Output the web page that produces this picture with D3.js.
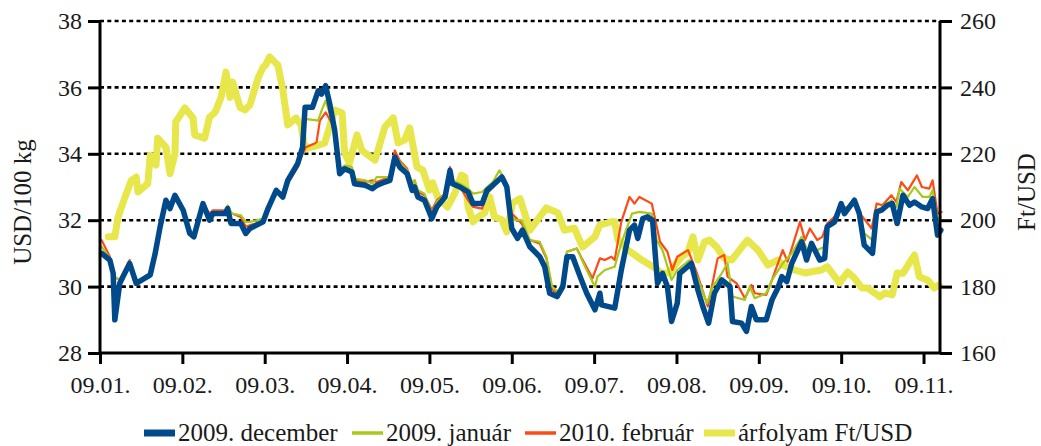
<!DOCTYPE html>
<html lang="hu">

<head>
    <meta charset="UTF-8">
    <title>Chart</title>
    <script src="https://d3js.org/d3.v7.min.js"></script>
    <style>
        body { margin: 0; background: #fff; }
        svg text { font-family: "Liberation Serif", "DejaVu Serif", serif; fill: #1a1a1a; }
    </style>
</head>

<body>
    <svg id="chart" width="1041" height="446"></svg>
    <script>
        // honapok (x tengely feliratai)
        var monthLabels = ["09.01.", "09.02.", "09.03.", "09.04.", "09.05.", "09.06.", "09.07.", "09.08.", "09.09.", "09.10.", "09.11."];
        var leftTicks = [28, 30, 32, 34, 36, 38];
        var rightTicks = [160, 180, 200, 220, 240, 260];

        // [honap (tort), USD/100 kg]
        var dec2009 = [[0.02,31.0],[0.12,30.8],[0.16,30.4],[0.18,29.0],[0.24,30.1],[0.36,30.7],[0.44,30.1],[0.61,30.35],[0.67,31.0],[0.73,31.8],[0.80,32.6],[0.85,32.35],[0.91,32.75],[1.01,32.3],[1.09,31.6],[1.14,31.5],[1.25,32.5],[1.33,32.0],[1.37,32.2],[1.52,32.2],[1.55,32.35],[1.59,31.9],[1.71,31.9],[1.77,31.6],[1.82,31.75],[1.98,31.95],[2.04,32.35],[2.14,32.9],[2.22,32.7],[2.28,33.2],[2.40,33.7],[2.46,34.2],[2.49,35.4],[2.58,35.4],[2.65,35.9],[2.69,35.8],[2.74,36.05],[2.79,35.5],[2.85,34.7],[2.91,33.4],[2.97,33.55],[3.06,33.45],[3.09,33.1],[3.22,33.05],[3.31,32.95],[3.36,33.05],[3.46,33.15],[3.52,33.2],[3.58,33.9],[3.64,33.6],[3.73,33.4],[3.79,32.9],[3.82,33.0],[3.86,32.7],[3.94,32.6],[4.03,32.05],[4.09,32.4],[4.19,32.7],[4.25,33.5],[4.28,33.1],[4.37,33.0],[4.47,32.85],[4.53,32.5],[4.64,32.5],[4.70,32.9],[4.77,33.05],[4.88,33.3],[4.94,33.0],[5.00,31.75],[5.07,31.45],[5.13,31.7],[5.22,31.2],[5.34,30.9],[5.40,30.6],[5.46,29.8],[5.55,29.7],[5.62,30.0],[5.67,30.9],[5.74,30.9],[5.83,30.3],[5.91,29.8],[6.01,29.3],[6.07,29.8],[6.09,29.45],[6.25,29.35],[6.33,30.5],[6.43,31.7],[6.49,31.85],[6.53,31.45],[6.59,32.05],[6.65,32.1],[6.71,32.0],[6.77,30.1],[6.83,30.4],[6.89,30.0],[6.94,28.95],[7.01,29.5],[7.04,30.4],[7.18,30.7],[7.26,29.9],[7.32,29.4],[7.39,28.9],[7.46,29.8],[7.55,30.2],[7.65,30.0],[7.68,28.95],[7.79,28.9],[7.85,28.65],[7.91,29.4],[7.97,29.0],[8.09,29.0],[8.16,29.6],[8.23,29.95],[8.28,30.3],[8.34,30.15],[8.40,30.7],[8.52,31.35],[8.58,30.8],[8.64,31.3],[8.74,30.8],[8.80,30.85],[8.83,31.8],[8.92,31.95],[9.00,32.5],[9.04,32.2],[9.16,32.6],[9.22,32.2],[9.28,31.25],[9.38,31.0],[9.43,32.25],[9.49,32.3],[9.56,32.45],[9.62,32.5],[9.68,31.9],[9.75,32.75],[9.83,32.45],[9.89,32.55],[9.98,32.4],[10.05,32.35],[10.11,32.65],[10.17,31.55],[10.21,31.7]];

        var jan2009 = [[0.02,31.2],[0.12,30.85],[0.17,30.3],[0.24,30.2],[0.36,30.75],[0.44,30.05],[0.61,30.4],[0.67,31.0],[0.73,31.8],[0.80,32.5],[0.85,32.4],[0.91,32.7],[1.01,32.35],[1.09,31.7],[1.14,31.6],[1.25,32.45],[1.33,32.1],[1.37,32.25],[1.52,32.25],[1.55,32.45],[1.60,32.2],[1.71,32.15],[1.77,31.95],[1.82,31.95],[1.98,32.05],[2.04,32.4],[2.14,32.95],[2.22,32.75],[2.28,33.2],[2.40,33.75],[2.46,34.3],[2.49,35.05],[2.65,35.0],[2.69,35.3],[2.74,35.6],[2.79,35.2],[2.85,34.6],[2.91,33.5],[2.97,33.65],[3.06,33.6],[3.09,33.25],[3.22,33.2],[3.31,33.1],[3.36,33.3],[3.46,33.3],[3.52,33.3],[3.58,33.95],[3.64,33.75],[3.73,33.5],[3.79,33.15],[3.82,33.2],[3.86,32.9],[3.94,32.8],[4.03,32.2],[4.09,32.55],[4.19,32.8],[4.25,33.4],[4.28,33.2],[4.37,33.1],[4.47,32.95],[4.53,32.8],[4.64,32.85],[4.70,33.0],[4.77,33.15],[4.85,33.5],[4.94,33.1],[5.00,32.1],[5.04,32.0],[5.12,32.0],[5.22,31.4],[5.34,31.35],[5.42,30.9],[5.49,30.0],[5.56,29.85],[5.62,30.1],[5.67,31.05],[5.79,31.15],[5.89,30.6],[6.01,30.0],[6.04,30.3],[6.13,30.5],[6.25,30.6],[6.33,31.3],[6.46,32.2],[6.55,32.25],[6.70,32.2],[6.76,31.4],[6.83,31.1],[6.94,30.2],[7.01,30.5],[7.16,30.8],[7.25,30.3],[7.37,29.5],[7.44,30.0],[7.55,30.4],[7.62,30.7],[7.68,29.7],[7.83,29.6],[7.89,30.0],[7.95,29.65],[8.09,29.8],[8.16,30.2],[8.29,30.7],[8.40,31.0],[8.52,31.5],[8.59,31.1],[8.71,31.1],[8.80,31.2],[8.83,31.8],[8.92,32.0],[9.00,32.5],[9.04,32.3],[9.16,32.6],[9.22,32.3],[9.28,31.6],[9.38,31.4],[9.43,32.3],[9.50,32.4],[9.61,32.6],[9.67,32.4],[9.71,32.95],[9.81,32.7],[9.89,33.0],[9.99,32.7],[10.07,32.7],[10.11,32.9],[10.17,32.0],[10.21,32.1]];

        var feb2010 = [[0.02,31.4],[0.12,30.9],[0.17,30.3],[0.24,30.2],[0.36,30.8],[0.44,30.1],[0.61,30.3],[0.67,31.0],[0.73,31.8],[0.80,32.5],[0.85,32.3],[0.91,32.7],[1.01,32.35],[1.09,31.7],[1.14,31.55],[1.25,32.5],[1.33,32.2],[1.37,32.3],[1.52,32.3],[1.55,32.3],[1.60,32.2],[1.71,32.1],[1.77,31.8],[1.82,31.85],[1.98,31.95],[2.04,32.35],[2.14,32.9],[2.22,32.7],[2.28,33.1],[2.40,33.6],[2.46,34.0],[2.50,34.2],[2.60,34.3],[2.63,34.35],[2.67,35.0],[2.74,35.25],[2.82,34.9],[2.88,34.2],[2.91,33.55],[2.97,33.6],[3.06,33.5],[3.09,33.2],[3.22,33.15],[3.31,33.2],[3.36,33.15],[3.46,33.25],[3.52,33.3],[3.58,34.1],[3.64,33.8],[3.73,33.55],[3.79,33.1],[3.82,33.2],[3.86,32.85],[3.94,32.75],[4.03,32.3],[4.09,32.6],[4.19,32.8],[4.25,33.6],[4.28,33.2],[4.37,33.0],[4.47,32.6],[4.53,32.4],[4.64,32.35],[4.70,32.8],[4.77,33.0],[4.88,33.3],[4.94,33.0],[5.00,32.2],[5.04,32.1],[5.12,31.9],[5.22,31.4],[5.34,31.3],[5.42,30.85],[5.49,29.9],[5.56,29.8],[5.62,30.05],[5.67,31.05],[5.79,31.15],[5.85,30.85],[5.98,30.25],[6.07,30.85],[6.13,30.8],[6.21,30.9],[6.25,30.8],[6.33,31.95],[6.43,32.7],[6.49,32.5],[6.55,32.7],[6.70,32.5],[6.80,31.35],[6.89,31.05],[6.95,30.5],[7.01,30.9],[7.14,31.1],[7.25,30.4],[7.38,29.4],[7.50,30.85],[7.58,30.95],[7.62,30.3],[7.73,30.1],[7.83,29.65],[7.91,30.05],[7.95,29.8],[8.09,29.75],[8.16,30.2],[8.29,31.1],[8.35,30.75],[8.50,31.95],[8.56,31.4],[8.62,31.75],[8.71,31.4],[8.77,31.5],[8.83,31.9],[8.92,32.1],[9.00,32.45],[9.08,32.35],[9.16,32.6],[9.22,32.2],[9.26,32.1],[9.37,31.75],[9.43,32.5],[9.50,32.45],[9.61,32.75],[9.67,32.55],[9.73,33.15],[9.81,32.9],[9.92,33.35],[9.98,33.0],[10.07,32.95],[10.11,33.2],[10.17,32.2],[10.22,32.25]];

        // [honap (tort), Ft/USD] - jobb tengely
        var ftUsd = [[0.10,195],[0.18,195],[0.22,201],[0.30,206.7],[0.38,212],[0.44,213],[0.46,208.5],[0.58,211],[0.61,219.6],[0.68,216.6],[0.70,224.7],[0.80,222],[0.85,214],[0.91,220],[0.92,229.6],[1.03,233.8],[1.13,230.8],[1.15,225.7],[1.27,224.7],[1.33,231],[1.40,232.6],[1.47,237],[1.53,244.6],[1.58,237],[1.61,241.6],[1.70,234],[1.76,233.2],[1.82,234.7],[1.92,242.8],[1.98,246.1],[2.01,246.7],[2.06,249.2],[2.16,246.7],[2.22,239.2],[2.28,228.7],[2.38,230.8],[2.44,228.7],[2.49,221.5],[2.65,222.6],[2.73,223.3],[2.85,233.2],[2.94,232.3],[2.97,220.2],[3.03,217.2],[3.12,225.7],[3.18,221],[3.34,218.1],[3.46,228.1],[3.56,230.8],[3.62,223.3],[3.70,224.2],[3.76,227.8],[3.85,216],[3.92,215.1],[4.00,209.1],[4.04,211.2],[4.10,207],[4.22,204],[4.31,208.2],[4.39,213.6],[4.43,213],[4.47,204],[4.53,199.5],[4.59,201],[4.67,202.2],[4.73,207],[4.79,201],[4.88,200.1],[4.94,196.5],[5.01,205.2],[5.10,206.5],[5.22,197],[5.42,203.7],[5.56,202.2],[5.64,197],[5.76,197.6],[5.86,191.9],[6.01,195],[6.07,198.6],[6.21,199.5],[6.25,199.5],[6.29,194],[6.41,191],[6.58,188],[6.74,185.6],[6.82,184.1],[6.92,184.1],[6.98,186.5],[7.06,188.9],[7.14,190.4],[7.20,195],[7.26,188],[7.34,193.4],[7.40,194],[7.49,191.9],[7.58,188.5],[7.67,188],[7.86,194],[7.99,191],[8.11,186.5],[8.23,188],[8.29,186.5],[8.43,185],[8.56,184.1],[8.76,185],[8.83,186],[8.98,181.1],[9.08,184.4],[9.16,182.6],[9.25,179.6],[9.32,179.6],[9.47,176.9],[9.53,178.1],[9.62,177.5],[9.68,184.1],[9.75,184],[9.85,188],[9.89,189.5],[9.95,182.9],[10.05,182],[10.13,179.6],[10.19,180.5]];

        var seriesNames = ["2009. december", "2009. január", "2010. február", "árfolyam Ft/USD"];

        var svg = d3.select("#chart");
        var margin = { left: 100, right: 940, top: 21, bottom: 353 };

        var x = d3.scaleLinear().domain([0, 10.2]).range([margin.left, margin.right]);
        var yL = d3.scaleLinear().domain([28, 38]).range([margin.bottom, margin.top]);
        var yR = d3.scaleLinear().domain([160, 260]).range([margin.bottom, margin.top]);

        //szaggatott racsvonalak
        svg.append("g").selectAll("line").data(leftTicks.slice(1)).enter().append("line")
            .attr("x1", margin.left).attr("x2", margin.right)
            .attr("y1", function (d) { return yL(d); })
            .attr("y2", function (d) { return yL(d); })
            .attr("stroke", "#000")
            .attr("stroke-width", 2.6)
            .attr("stroke-dasharray", "4,3.3");

        var styles = [
            { color: "#004a8c", width: 5.5, legend: 7 },
            { color: "#a8c81a", width: 2.2, legend: 3.5 },
            { color: "#ff4a14", width: 2.2, legend: 3.5 },
            { color: "#e7e64b", width: 7, legend: 7 }
        ];

        var lineL = d3.line().x(function (d) { return x(d[0]); }).y(function (d) { return yL(d[1]); });
        var lineR = d3.line().x(function (d) { return x(d[0]); }).y(function (d) { return yR(d[1]); });

        // rajzolasi sorrend: arfolyam alul, december felul
        var plots = [
            { data: ftUsd, line: lineR, s: styles[3] },
            { data: feb2010, line: lineL, s: styles[2] },
            { data: jan2009, line: lineL, s: styles[1] },
            { data: dec2009, line: lineL, s: styles[0] }
        ];
        svg.append("g").selectAll("path").data(plots).enter().append("path")
            .attr("d", function (d) { return d.line(d.data); })
            .attr("fill", "none")
            .attr("stroke", function (d) { return d.s.color; })
            .attr("stroke-width", function (d) { return d.s.width; })
            .attr("stroke-linejoin", "round")
            .attr("stroke-linecap", "round");

        //tengelyek
        var axisL = svg.append("g").attr("transform", "translate(" + margin.left + ",0)")
            .call(d3.axisLeft(yL).tickValues(leftTicks).tickSize(12).tickPadding(6).tickFormat(d3.format("d")));
        var axisR = svg.append("g").attr("transform", "translate(" + margin.right + ",0)")
            .call(d3.axisRight(yR).tickValues(rightTicks).tickSize(12).tickPadding(8).tickFormat(d3.format("d")));
        var axisB = svg.append("g").attr("transform", "translate(0," + margin.bottom + ")")
            .call(d3.axisBottom(x).tickValues(d3.range(monthLabels.length)).tickSize(11).tickPadding(12)
                .tickFormat(function (d, i) { return monthLabels[i]; }));

        [axisL, axisR, axisB].forEach(function (a) {
            a.select(".domain").attr("stroke", "#000").attr("stroke-width", 3);
            a.selectAll(".tick line").attr("stroke", "#000").attr("stroke-width", 3);
            a.selectAll("text").attr("font-size", 24).attr("fill", "#1a1a1a")
                .style("font-family", "Liberation Serif");
        });
        axisL.select(".domain").attr("d", "M0," + margin.bottom + "V" + margin.top);
        axisR.select(".domain").attr("d", "M0," + margin.bottom + "V" + margin.top);
        axisB.select(".domain").attr("d", "M" + margin.left + ",0H" + margin.right);

        //tengelycimek
        svg.append("text").attr("transform", "translate(31,202) rotate(-90)")
            .attr("text-anchor", "middle").attr("font-size", 25).text("USD/100 kg");
        svg.append("text").attr("transform", "translate(1035,192) rotate(-90)")
            .attr("text-anchor", "middle").attr("font-size", 25).text("Ft/USD");

        //jelmagyarazat
        var legendX = [144, 352, 525, 704];
        var legend = svg.append("g").selectAll("g").data(seriesNames).enter().append("g")
            .attr("transform", function (d, i) { return "translate(" + legendX[i] + ",433)"; });
        legend.append("line")
            .attr("x1", 0).attr("x2", 31).attr("y1", 0).attr("y2", 0)
            .attr("stroke", function (d, i) { return styles[i].color; })
            .attr("stroke-width", function (d, i) { return styles[i].legend; });
        legend.append("text")
            .attr("x", 34).attr("y", 8)
            .attr("font-size", 25)
            .text(function (d) { return d; });
    </script>
</body>

</html>
